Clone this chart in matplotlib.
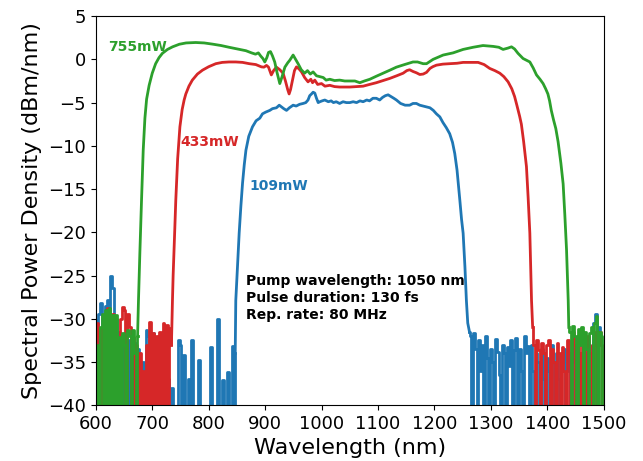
import numpy as np
from matplotlib import pyplot as plt

# ---------------- data ----------------
# smooth part of each spectrum: wavelength [nm], power density [dBm/nm]
blue_wl = [847, 848, 851, 854, 857, 860, 863, 866, 871, 877.6, 884, 890.6, 895.3, 901, 908.3, 913,
           920, 925, 929, 933, 937.9, 943, 949.6, 955, 961, 967.3, 972, 976, 979, 982.2, 985, 988,
           991, 994, 997, 1001, 1005.7, 1012, 1017, 1021, 1026, 1032, 1038, 1044, 1050, 1056, 1062,
           1068, 1073.6, 1080, 1085, 1091, 1097, 1103, 1108, 1113, 1117.9, 1123, 1128, 1132.6, 1140,
           1148, 1156, 1162, 1168, 1174, 1180, 1186, 1192, 1198, 1203.5, 1209.5, 1215, 1221, 1227,
           1232, 1236, 1240, 1245, 1248, 1250.8, 1254, 1256.6, 1259, 1262]
blue_db = [-34, -27.9, -24, -20.1, -17, -14.3, -12.2, -10.5, -8.9, -7.8, -7.1, -6.8, -6.3, -6.1, -5.9, -5.7,
           -5.6, -5.3, -5.5, -5.7, -5.9, -5.6, -5.3, -5.4, -5.2, -5.1, -5.0, -4.7, -4.2, -4.0, -3.8, -3.9,
           -4.5, -5.0, -4.9, -4.8, -4.7, -4.9, -4.8, -5.0, -4.9, -5.1, -4.9, -5.0, -5.0, -4.9, -5.0,
           -4.8, -4.9, -4.7, -4.8, -4.5, -4.5, -4.7, -4.4, -4.2, -4.1, -4.3, -4.5, -4.7, -5.1,
           -5.3, -5.3, -5.1, -5.1, -5.3, -5.4, -5.5, -5.6, -5.9, -6.3, -6.65, -7.3, -7.9, -8.6,
           -9.6, -10.9, -12.8, -16.3, -18.5, -20.1, -24, -27.9, -30.5, -31.5]

red_wl = [734, 735.8, 737, 740, 741.7, 745, 749, 753, 756.5, 759.5, 765, 771, 780, 789, 800, 812.6,
          824, 836, 848, 860, 872, 883.5, 889, 893.6, 898, 902.4, 906, 911, 915, 920, 926, 931.8,
          936, 940, 942.5, 945, 948.5, 952, 955.5, 960, 964.5, 970, 976, 981, 984, 988, 993, 999.9,
          1006, 1014.6, 1023, 1032, 1041, 1050, 1062, 1073.6, 1085, 1097, 1109, 1121, 1133, 1144.5,
          1151, 1156, 1162, 1168, 1174, 1180, 1186, 1192, 1197, 1203.5, 1215, 1227, 1240, 1250.8,
          1264, 1277.3, 1288, 1298, 1307, 1315.8, 1323, 1330.5, 1337, 1342, 1346, 1351, 1354, 1358,
          1363, 1366, 1369, 1372, 1374]
red_db = [-33, -27.9, -25, -19.5, -16.3, -11.5, -7.8, -5.8, -4.7, -4.0, -3.1, -2.4, -1.7, -1.25, -0.85, -0.5,
          -0.35, -0.3, -0.3, -0.35, -0.5, -0.6, -0.75, -0.87, -0.9, -0.7, -0.9, -1.8, -1.3, -0.9, -1.2, -1.6,
          -2.5, -3.5, -4.0, -3.5, -2.4, -1.3, -0.87, -1.1, -1.45, -2.1, -2.6, -2.3, -2.7, -2.4, -2.9, -2.8,
          -3.1, -3.0, -3.15, -3.2, -3.2, -3.2, -3.15, -3.1, -2.9, -2.7, -2.45, -2.2, -1.9, -1.6,
          -1.3, -1.2, -1.4, -1.55, -1.75, -1.7, -1.5, -1.05, -0.85, -0.67, -0.55, -0.5, -0.45, -0.35,
          -0.35, -0.35, -0.6, -1.05, -1.3, -1.6, -2.0, -2.6, -3.4, -4.3, -5.3, -6.6, -7.5, -9.5,
          -12.4, -16, -20.1, -27.9, -31]

green_wl = [674, 675.6, 678, 681, 684, 687, 690, 694.5, 700, 706, 712, 718, 727, 736, 748, 760, 777,
            792, 807, 822, 836, 851, 866, 876, 883, 888, 892, 896, 899.4, 903, 906, 909.5, 913, 917,
            921, 926, 930, 935, 940, 943.7, 949.6, 954, 958.4, 964, 970, 975, 980, 985, 991, 997,
            1003, 1008, 1014.6, 1023, 1032, 1041, 1050, 1059, 1067.7, 1076, 1085.5, 1097, 1109, 1121,
            1132.6, 1147, 1162, 1170, 1180, 1186, 1197.6, 1215.4, 1233, 1250.8, 1268.5, 1286, 1304,
            1314, 1321.6, 1330, 1336.5, 1342, 1348, 1357, 1363, 1369, 1375, 1380.8, 1387, 1392.5,
            1397, 1401, 1404, 1407, 1411, 1415, 1419, 1424, 1428, 1431, 1434, 1437, 1438]
green_db = [-32, -27.9, -22.5, -16.3, -10.5, -6.8, -4.6, -3.0, -1.6, -0.5, 0.2, 0.7, 1.15, 1.45, 1.75, 1.9, 1.95,
            1.9, 1.76, 1.6, 1.4, 1.2, 1.0, 0.75, 0.6, 0.75, 0.4, 0.1, -0.3, 0.2, 0.8, 0.9, 0.4, -0.3,
            -1.5, -2.8, -2.0, -0.9, -0.4, -0.1, 0.5, 0.0, -0.5, -1.2, -1.6, -1.3, -1.7, -1.45, -1.9, -2.0,
            -2.1, -2.4, -2.3, -2.45, -2.4, -2.5, -2.5, -2.5, -2.7, -2.5, -2.3, -1.95, -1.6, -1.25,
            -0.9, -0.6, -0.3, -0.3, -0.5, -0.5, 0.0, 0.5, 0.75, 1.15, 1.4, 1.6, 1.5,
            1.4, 1.15, 1.3, 1.45, 1.2, 0.7, 0.1, -0.1, -0.3, -1.0, -1.8, -2.3, -2.8,
            -3.4, -4.0, -4.8, -5.9, -7.0, -8.0, -9.5, -12, -14.4, -18, -22, -27.9, -31]

# noise floor (-45 = below the bottom of the axes)
blue_noise_l_wl = list(range(600, 847, 3))
blue_noise_l_db = [-30.2, -45, -29.5, -28.2, -45, -31, -28.5, -27.8, -45, -25.0, -26.5, -45, -30, -45,
                   -31.5, -45, -32, -45, -33, -45, -32.5, -45, -34, -32.8, -45, -33.5, -45, -45, -35,
                   -45, -31.3, -32, -45, -33, -31.7, -45, -32.2, -34, -45, -36, -45, -35, -45, -37,
                   -45, -38, -45, -45, -45, -32.5, -33, -45, -34.2, -45, -45, -37, -45, -32.5, -45,
                   -45, -45, -34.8, -45, -45, -45, -45, -45, -45, -33.3, -45, -45, -45, -30.0, -45,
                   -45, -37.1, -45, -45, -36.2, -45, -45, -33.1, -45]
blue_noise_r_wl = list(range(1264, 1499, 3)) + [1500]
blue_noise_r_db = [-32.0, -45, -31.6, -33.5, -45, -32.4, -36, -33.0, -45, -32.0, -34.5, -45, -33.5, -35,
                   -45, -32.3, -33.8, -36.5, -45, -33.0, -34, -45, -33.3, -35.5, -32.5, -45, -33.6,
                   -32.2, -45, -33.5, -36, -45, -32.0, -34, -33.2, -45, -33, -36, -45, -34, -35, -45,
                   -33.5, -37, -45, -34.5, -36, -45, -33, -35, -45, -34, -37, -45, -35, -33.5, -45,
                   -36, -34, -45, -35, -33, -45, -36, -34, -45, -35, -32.5, -45, -34, -37, -45, -33,
                   -30.5, -29.5, -45, -31, -33, -45, -35]

red_noise_l_wl = list(range(600, 733, 3))
red_noise_l_db = [-45, -30.5, -32, -45, -31, -45, -29.5, -28.8, -45, -30, -29.4, -45, -32, -32.1, -45,
                  -30, -28.6, -29, -45, -29.4, -31, -45, -32.1, -45, -33, -45, -34, -45, -36, -45,
                  -33, -45, -30.4, -45, -31.7, -45, -32, -45, -31.5, -45, -30.5, -45, -30.7, -45,
                  -31.1]
red_noise_r_wl = list(range(1376, 1500, 3))
red_noise_r_db = [-33.0, -45, -32.5, -33.6, -45, -32.8, -34, -45, -33, -32.5, -45, -33.5, -35, -45,
                  -32.8, -34, -45, -33.3, -36, -45, -32.5, -34, -45, -31.5, -33, -45, -32.5, -34,
                  -45, -33, -35, -45, -32, -34, -45, -33, -31.5, -45, -32, -31.5, -33, -45]

green_noise_l_wl = list(range(600, 673, 3))
green_noise_l_db = [-45, -33, -45, -31, -29.5, -45, -29.0, -45, -28.8, -45, -29.6, -45, -29.6, -45,
                    -32.1, -45, -31.7, -33, -45, -31.3, -32, -45, -31.3, -34, -45]
green_noise_r_wl = [1440, 1443, 1446, 1449, 1452, 1455, 1458, 1461, 1464, 1467, 1470, 1473, 1476,
                    1479, 1482, 1485, 1487, 1490, 1493, 1496, 1499]
green_noise_r_db = [-31.5, -45, -30.8, -32, -45, -31.2, -33, -31.0, -45, -31.5, -33.5, -45, -31.7,
                    -31, -45, -30.5, -29.7, -45, -31.5, -32, -45]

labels = ['109mW', '433mW', '755mW']
info = 'Pump wavelength: 1050 nm\nPulse duration: 130 fs\nRep. rate: 80 MHz'

series = [
    ('tab:blue', blue_noise_l_wl, blue_noise_l_db, blue_wl, blue_db, blue_noise_r_wl, blue_noise_r_db),
    ('tab:red', red_noise_l_wl, red_noise_l_db, red_wl, red_db, red_noise_r_wl, red_noise_r_db),
    ('tab:green', green_noise_l_wl, green_noise_l_db, green_wl, green_db, green_noise_r_wl, green_noise_r_db),
]

fig = plt.figure(figsize=(6.43, 4.61), dpi=100)
ax = fig.add_axes([0.149, 0.121, 0.79, 0.844])

for c, nlx, nly, x, y, nrx, nry in series:
    # noise floor drawn as steps so it looks like the dense spiky bars of the measurement
    ax.plot(list(nlx) + [x[0]], list(nly) + [y[0]], color=c, lw=2, drawstyle='steps-mid')
    ax.plot(x, y, color=c, lw=2)
    ax.plot([x[-1]] + list(nrx), [y[-1]] + list(nry), color=c, lw=2, drawstyle='steps-mid')

ax.text(621, 1.4, labels[2], color='tab:green', fontsize=10, fontweight='bold', va='center')
ax.text(750, -9.6, labels[1], color='tab:red', fontsize=10, fontweight='bold', va='center')
ax.text(873, -14.6, labels[0], color='tab:blue', fontsize=10, fontweight='bold', va='center')
ax.text(866, -24.85, info, fontsize=10, fontweight='bold', va='top', linespacing=1.25)

ax.set_xlim(600, 1500)
ax.set_ylim(-40, 5)
ax.set_xticks(np.arange(600, 1501, 100))
ax.set_yticks(np.arange(-40, 6, 5))
ax.tick_params(labelsize=13)
ax.set_xlabel('Wavelength (nm)', fontsize=16)
ax.set_ylabel('Spectral Power Density (dBm/nm)', fontsize=16)

fig.savefig('out.png', dpi=100)
